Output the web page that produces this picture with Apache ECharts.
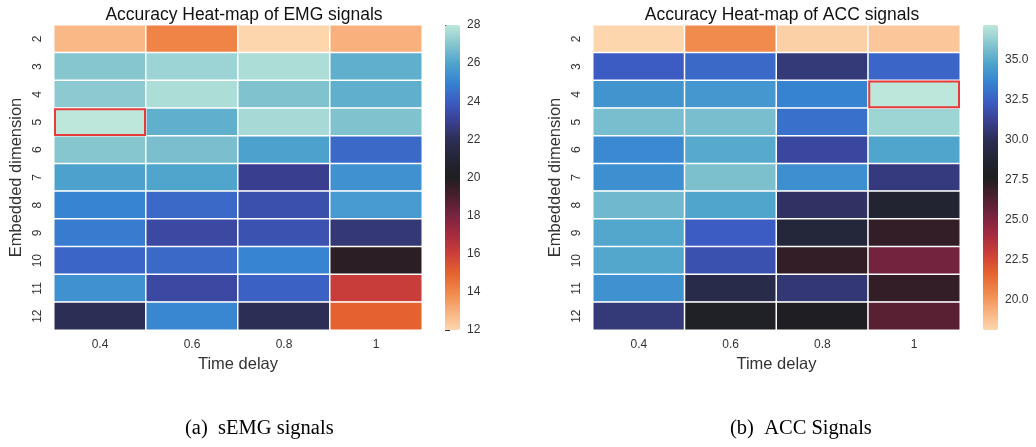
<!DOCTYPE html>
<html>
<head>
<meta charset="utf-8">
<script src="https://cdn.jsdelivr.net/npm/echarts@6/dist/echarts.min.js"></script>
<style>html,body{margin:0;padding:0;background:#fff;}#c{width:1036px;height:447px;}</style>
</head>
<body>
<div id="c"></div>
<script>
// ---- data ----
const timeDelays = ['0.4', '0.6', '0.8', '1'];
const embeddedDims = ['2', '3', '4', '5', '6', '7', '8', '9', '10', '11', '12'];
// rows = embedded dimension (2..12), columns = time delay
const emgValues = [
  [12.8, 14.1, 12.0, 13.0],
  [27.0, 27.4, 27.7, 26.3],
  [27.1, 27.7, 26.9, 26.3],
  [28.0, 26.3, 27.6, 26.9],
  [27.0, 26.8, 25.9, 24.3],
  [25.9, 26.0, 22.9, 25.4],
  [25.0, 24.3, 23.5, 25.7],
  [24.8, 23.3, 23.6, 22.5],
  [24.2, 24.3, 25.0, 19.7],
  [25.4, 23.3, 24.1, 16.1],
  [22.0, 25.1, 22.0, 15.0]
];
const accValues = [
  [18.1, 20.4, 18.3, 18.6],
  [32.4, 32.8, 30.7, 32.7],
  [34.2, 34.3, 33.6, 37.2],
  [35.7, 35.7, 33.0, 36.5],
  [33.8, 35.0, 31.5, 34.8],
  [34.0, 35.8, 34.0, 30.8],
  [35.5, 34.8, 30.3, 28.6],
  [34.9, 32.4, 29.0, 27.1],
  [34.9, 31.9, 27.1, 25.4],
  [34.1, 29.6, 30.6, 27.1],
  [30.7, 28.0, 27.7, 26.1]
];
const emgTicks = [12, 14, 16, 18, 20, 22, 24, 26, 28];
const accTicks = [20.0, 22.5, 25.0, 27.5, 30.0, 32.5, 35.0];

// ---- helpers ----
const icefireR = ['#fdd6ae', '#f8b07c', '#f08849', '#e5612f', '#cc3f38', '#a52b3f', '#78243f', '#4a1f2d',
  '#1f1e21', '#232536', '#2d2e56', '#3a4194', '#3c5dc4', '#3684d2', '#4fa5cc', '#86c6cf', '#bde7db'];

function toCells(m) {
  const out = [];
  m.forEach((row, r) => row.forEach((v, c) => out.push([c, r, v])));
  return out;
}
function maxCell(m) {
  let best = [0, 0], bv = -Infinity;
  m.forEach((row, r) => row.forEach((v, c) => { if (v > bv) { bv = v; best = [c, r]; } }));
  return best;
}
function flatMin(m) { return Math.min.apply(null, m.flat()); }
function flatMax(m) { return Math.max.apply(null, m.flat()); }

const emgMin = flatMin(emgValues), emgMax = flatMax(emgValues);
const accMin = flatMin(accValues), accMax = flatMax(accValues);

const FONT = 'Liberation Sans, Arial, sans-serif';
const TXT = '#333333';

const gridTop = 25, gridH = 305;
const grids = [
  { left: 54, top: gridTop, width: 368, height: gridH },
  { left: 593, top: gridTop, width: 367, height: gridH },
  { left: 445, top: gridTop, width: 15, height: gridH },
  { left: 983, top: gridTop, width: 15, height: gridH }
];

function catX(gi) {
  return {
    type: 'category', gridIndex: gi, data: timeDelays,
    axisLine: { show: false }, axisTick: { show: false }, splitLine: { show: false },
    axisLabel: { color: TXT, fontSize: 12, fontFamily: FONT, margin: 9 },
    name: 'Time delay', nameLocation: 'middle', nameGap: 26,
    nameTextStyle: { color: TXT, fontSize: 16.5, fontFamily: FONT }
  };
}
function catY(gi) {
  return {
    type: 'category', gridIndex: gi, data: embeddedDims, inverse: true,
    axisLine: { show: false }, axisTick: { show: false }, splitLine: { show: false },
    axisLabel: { color: TXT, fontSize: 12, fontFamily: FONT, rotate: 90, margin: 10 },
    name: 'Embedded dimension', nameLocation: 'middle', nameGap: 29,
    nameTextStyle: { color: TXT, fontSize: 16.5, fontFamily: FONT }
  };
}
function barX(gi) {
  return { type: 'value', gridIndex: gi, show: false, min: 0, max: 1 };
}
function barY(gi, mn, mx, ticks, fmt) {
  return {
    type: 'value', gridIndex: gi, position: 'right', min: mn, max: mx,
    axisLine: { show: false }, splitLine: { show: false },
    axisTick: { show: true, length: 5, lineStyle: { color: TXT }, customValues: ticks },
    axisLabel: { color: TXT, fontSize: 12, fontFamily: FONT, margin: 7, customValues: ticks, formatter: fmt }
  };
}

const highlightRender = function (params, api) {
  const p = api.coord([api.value(0), api.value(1)]);
  const s = api.size([1, 1]);
  return {
    type: 'rect',
    shape: { x: p[0] - s[0] / 2 + 1, y: p[1] - s[1] / 2 + 1, width: s[0] - 2, height: s[1] - 2 },
    style: { fill: 'none', stroke: '#e8393b', lineWidth: 2 }
  };
};

const option = {
  backgroundColor: '#ffffff',
  animation: false,
  title: [
    { text: 'Accuracy Heat-map of EMG signals', left: 239, top: 1, textAlign: 'center',
      textStyle: { color: '#111', fontSize: 17.5, fontWeight: 'normal', fontFamily: FONT } },
    { text: 'Accuracy Heat-map of ACC signals', left: 777, top: 1, textAlign: 'center',
      textStyle: { color: '#111', fontSize: 17.5, fontWeight: 'normal', fontFamily: FONT } }
  ],
  grid: grids,
  xAxis: [catX(0), catX(1), barX(2), barX(3)],
  yAxis: [catY(0), catY(1),
    barY(2, emgMin, emgMax, emgTicks, v => String(Math.round(v))),
    barY(3, accMin, accMax, accTicks, v => Number(v).toFixed(1))],
  visualMap: [
    { type: 'continuous', seriesIndex: 0, min: emgMin, max: emgMax, calculable: false,
      left: 445, top: gridTop, itemWidth: 15, itemHeight: gridH, padding: 0, text: null,
      showLabel: false, inRange: { color: icefireR } },
    { type: 'continuous', seriesIndex: 1, min: accMin, max: accMax, calculable: false,
      left: 983, top: gridTop, itemWidth: 15, itemHeight: gridH, padding: 0, text: null,
      showLabel: false, inRange: { color: icefireR } }
  ],
  series: [
    { type: 'heatmap', xAxisIndex: 0, yAxisIndex: 0, data: toCells(emgValues),
      itemStyle: { borderColor: '#ffffff', borderWidth: 1.5 }, emphasis: { disabled: true } },
    { type: 'heatmap', xAxisIndex: 1, yAxisIndex: 1, data: toCells(accValues),
      itemStyle: { borderColor: '#ffffff', borderWidth: 1.5 }, emphasis: { disabled: true } },
    { type: 'custom', xAxisIndex: 0, yAxisIndex: 0, z: 10, data: [maxCell(emgValues)], renderItem: highlightRender },
    { type: 'custom', xAxisIndex: 1, yAxisIndex: 1, z: 10, data: [maxCell(accValues)], renderItem: highlightRender }
  ],
  graphic: [
    { type: 'text', left: 185, top: 418, style: { text: '(a)  sEMG signals', fill: '#000', font: '20.5px "Liberation Serif", "Times New Roman", serif' } },
    { type: 'text', left: 730, top: 418, style: { text: '(b)  ACC Signals', fill: '#000', font: '20.5px "Liberation Serif", "Times New Roman", serif' } }
  ]
};

const chart = echarts.init(document.getElementById('c'), null, { renderer: 'canvas' });
chart.setOption(option);
</script>
</body>
</html>
